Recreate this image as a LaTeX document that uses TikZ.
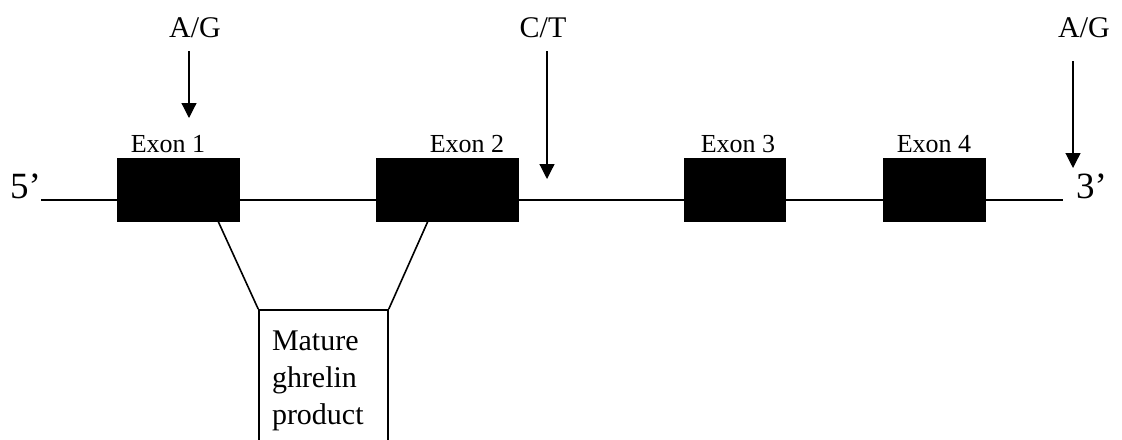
\documentclass[tikz,border=0pt]{standalone}
\usepackage{fontspec}
\setmainfont{Liberation Serif}
\usetikzlibrary{arrows.meta}

\begin{document}
\begin{tikzpicture}[x = 0.5pt, y = -0.5pt, line width = 1pt,
                    exon/.style = {rectangle, draw, fill = black, inner sep = 0pt, outer sep = 0pt, minimum height = 31pt},
                    exonlabel/.style = {anchor = base, inner sep = 0pt, font = \fontsize{13pt}{15pt}\selectfont},
                    snp/.style = {anchor = base, inner sep = 0pt, font = \fontsize{15pt}{18pt}\selectfont},
                    endlabel/.style = {anchor = base, inner sep = 0pt, font = \fontsize{18.5pt}{21pt}\selectfont},
                    pointer/.style = {line width = 0.6pt, -{Triangle[width = 7.5pt, length = 7.5pt]}},
                    product/.style = {draw, anchor = north, align = left, line width = 0.8pt,
                                      text width = 51.5pt, inner xsep = 6.5pt, inner ysep = 10.6pt,
                                      font = \fontsize{15pt}{18.5pt}\selectfont}]
  \clip (0, 0) rectangle (1122, 439);

  % strand and ends
  \coordinate (five) at (41, 200);
  \coordinate (three) at (1063, 200);
  \draw (five) -- (three);
  \node [endlabel] (L5) at (25.5, 198) {5’};
  \node [endlabel] (L3) at (1091.5, 198) {3’};

  % exons
  \node [exon, minimum width = 60.5pt] (E1) at (178.5, 190){};
  \node [exon, minimum width = 70.5pt] (E2) at (447.5, 190){};
  \node [exon, minimum width = 50pt] (E3) at (735, 190){};
  \node [exon, minimum width = 50.5pt] (E4) at (934.5, 190){};

  \node [exonlabel] (T1) at (168, 152) {Exon 1};
  \node [exonlabel] (T2) at (467, 152) {Exon 2};
  \node [exonlabel] (T3) at (738, 152) {Exon 3};
  \node [exonlabel] (T4) at (934, 152) {Exon 4};

  % polymorphisms
  \node [snp] (S1) at (195, 37) {A/G};
  \node [snp] (S2) at (543, 37) {C/T};
  \node [snp] (S3) at (1084, 37) {A/G};

  \coordinate (S1top) at (189, 51);
  \coordinate (S1tip) at (189, 118);
  \coordinate (S2top) at (547, 51);
  \coordinate (S2tip) at (547, 179);
  \coordinate (S3top) at (1073, 61);
  \coordinate (S3tip) at (1073, 168);
  \draw [pointer] (S1top) -- (S1tip);
  \draw [pointer] (S2top) -- (S2tip);
  \draw [pointer] (S3top) -- (S3tip);

  % mature peptide
  \node [product] (M) at (323.5, 309) {Mature\\ghrelin\\product};
  \coordinate (cut1) at (218, 221);
  \coordinate (cut2) at (428, 221);
  \draw [line width = 0.8pt] (cut1) -- (M.north west);
  \draw [line width = 0.8pt] (cut2) -- (M.north east);
\end{tikzpicture}
\end{document}
